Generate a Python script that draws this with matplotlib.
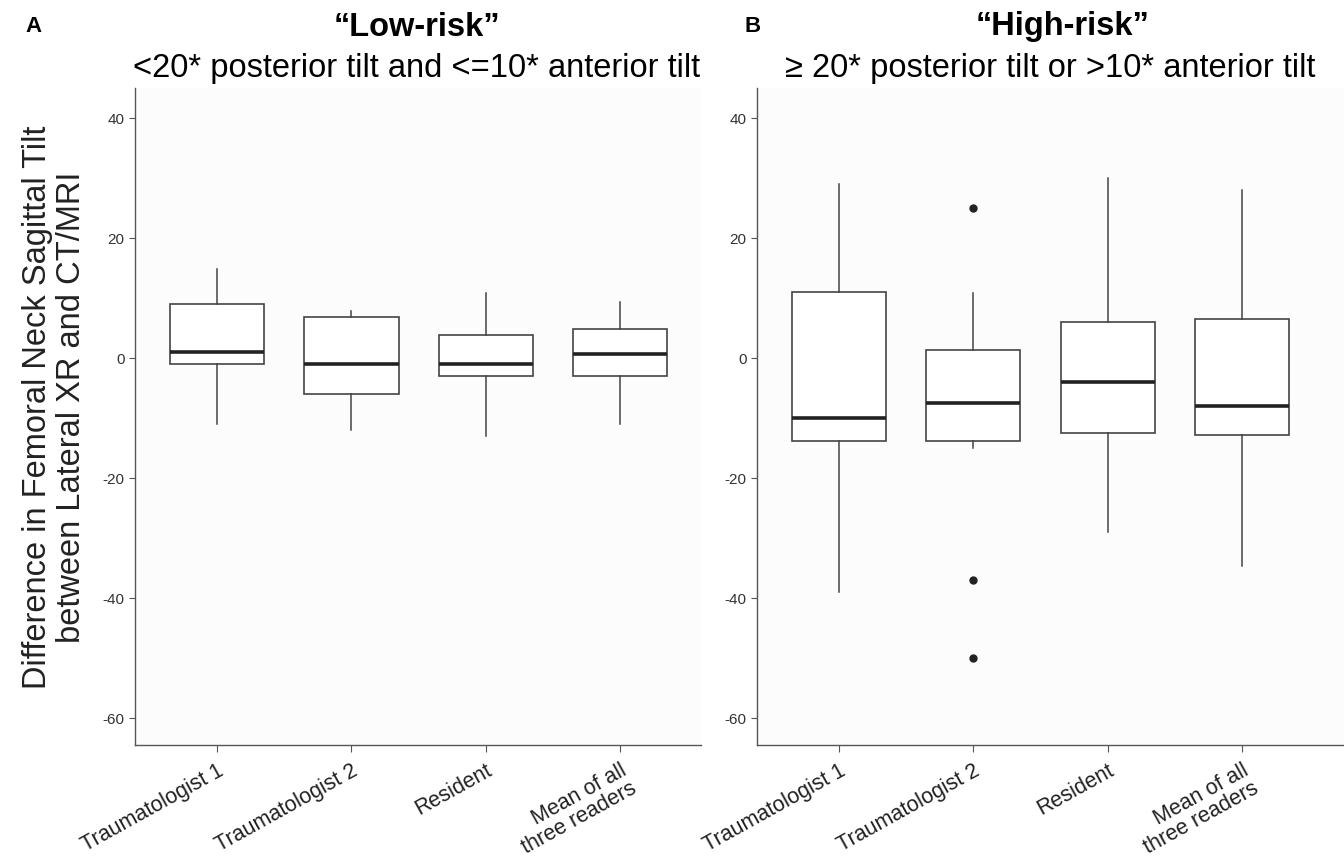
import numpy as np
import matplotlib
matplotlib.use("Agg")
import matplotlib.pyplot as plt

plt.rcParams['font.family'] = ['Liberation Sans', 'DejaVu Sans']

readers = ["Traumatologist 1", "Traumatologist 2", "Resident", "Mean of all\nthree readers"]

# low-risk group: whisker low, Q1, median, Q3, whisker high
low_whislo = [-11, -12, -13, -11]
low_q1 = [-1, -6, -3, -3]
low_med = [1, -1, -1, 0.6]
low_q3 = [9, 6.8, 3.8, 4.8]
low_whishi = [14.8, 7.8, 10.8, 9.4]
low_fliers = [[], [], [], []]

# high-risk group
high_whislo = [-39, -15, -29, -34.7]
high_q1 = [-13.8, -13.8, -12.5, -12.8]
high_med = [-10, -7.5, -4, -8]
high_q3 = [11, 1.3, 6, 6.5]
high_whishi = [29, 10.8, 30, 28]
high_fliers = [[], [25, -37, -50], [], []]


def make_stats(whislo, q1, med, q3, whishi, fliers):
    stats = []
    for i in range(len(med)):
        stats.append(dict(whislo=whislo[i], q1=q1[i], med=med[i], q3=q3[i],
                          whishi=whishi[i], fliers=fliers[i]))
    return stats


def style_axis(ax, xmax):
    ax.set_facecolor('#fcfcfc')
    for s in ['top', 'right']:
        ax.spines[s].set_visible(False)
    for s in ['left', 'bottom']:
        ax.spines[s].set_color('#555555')
        ax.spines[s].set_linewidth(1.0)
    ax.set_ylim(-64.5, 45)
    ax.set_xlim(0.39, xmax)
    ax.set_yticks([40, 20, 0, -20, -40, -60])
    ax.set_yticklabels(['40', '20', '0', '-20', '-40', '-60'])
    ax.set_xticks(range(1, len(readers) + 1))
    ax.set_xticklabels(readers, rotation=29, ha='right', rotation_mode='anchor',
                       fontsize=15.5, color='#222222', linespacing=0.95)
    ax.tick_params(axis='y', labelsize=11, labelcolor='#333333', color='#555555', length=4)
    ax.tick_params(axis='x', color='#555555', length=5, pad=6)


fig = plt.figure(figsize=(13.44, 8.59), dpi=100)
ax1 = fig.add_axes([135 / 1344, 1 - 745 / 859, 566 / 1344, 657 / 859])
ax2 = fig.add_axes([757 / 1344, 1 - 745 / 859, 587 / 1344, 657 / 859])

box_kw = dict(widths=0.7, showcaps=False, patch_artist=True,
              boxprops=dict(facecolor='white', edgecolor='#444444', linewidth=1.2),
              whiskerprops=dict(color='#444444', linewidth=1.1),
              medianprops=dict(color='#222222', linewidth=2.6),
              flierprops=dict(marker='o', markersize=5, markerfacecolor='#222222',
                              markeredgecolor='#222222'))

ax1.bxp(make_stats(low_whislo, low_q1, low_med, low_q3, low_whishi, low_fliers), **box_kw)
ax2.bxp(make_stats(high_whislo, high_q1, high_med, high_q3, high_whishi, high_fliers), **box_kw)
style_axis(ax1, 4.6)
style_axis(ax2, 4.76)

ax1.set_ylabel("Difference in Femoral Neck Sagittal Tilt\nbetween Lateral XR and CT/MRI",
               fontsize=23.5, color='#222222', linespacing=1.1)
ax1.yaxis.set_label_coords(-0.085, 0.514)

fig.text(25 / 1344, 1 - 26 / 859, "A", fontsize=16, fontweight='bold', ha='left', va='center')
fig.text(745 / 1344, 1 - 26 / 859, "B", fontsize=16, fontweight='bold', ha='left', va='center')
fig.text(417 / 1344, 1 - 27 / 859, "\u201cLow-risk\u201d", fontsize=23.5, fontweight='bold',
         ha='center', va='center')
fig.text(417 / 1344, 1 - 68 / 859, "<20* posterior tilt and <=10* anterior tilt", fontsize=23.5,
         ha='center', va='center')
fig.text(1063 / 1344, 1 - 27 / 859, "\u201cHigh-risk\u201d", fontsize=23.5, fontweight='bold',
         ha='center', va='center')
fig.text(785 / 1344, 1 - 68 / 859, "\u2265 20* posterior tilt or >10* anterior tilt", fontsize=23.5,
         ha='left', va='center')

fig.savefig("out.png", dpi=100)
